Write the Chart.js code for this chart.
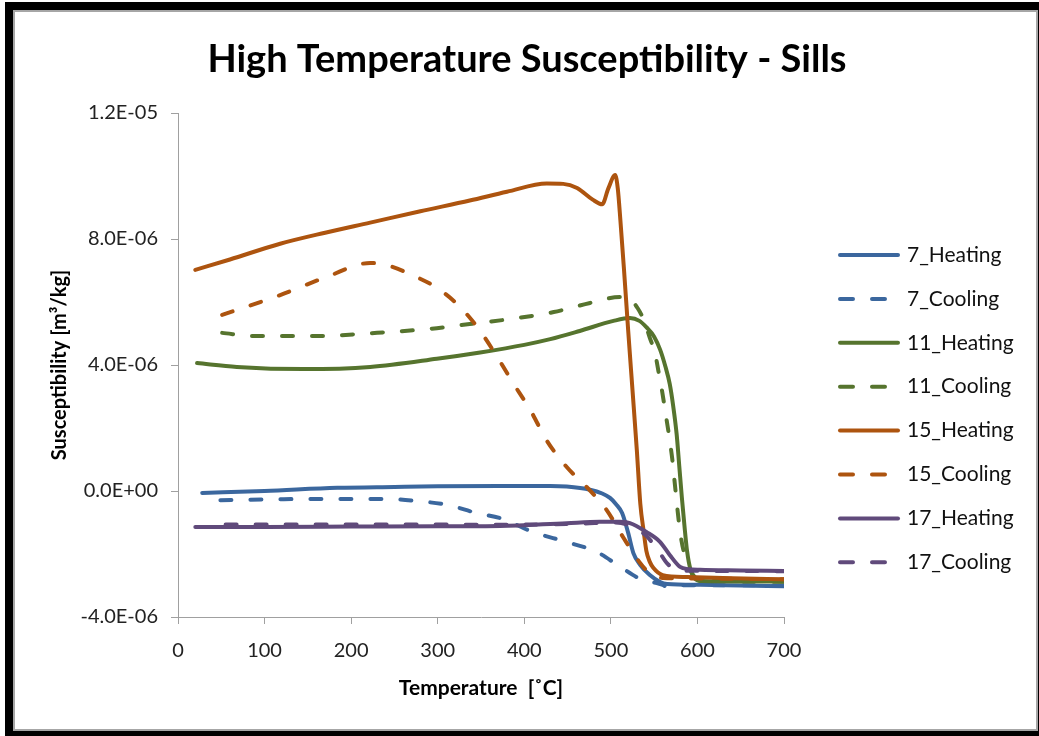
<!DOCTYPE html>
<html><head><meta charset="utf-8">
<script src="https://cdn.jsdelivr.net/npm/chart.js@4.4.1/dist/chart.umd.min.js"></script>
<style>
html,body{margin:0;padding:0;background:#fff;overflow:hidden;}
#frame{position:absolute;left:5px;top:2px;width:1034px;height:734px;background:#000;}
#inner{position:absolute;left:13px;top:10px;width:1025px;height:721px;background:#fff;border:2px solid #a6a6a6;box-sizing:border-box;}
#wrap{position:absolute;left:0;top:0;width:1039px;height:736px;}
</style></head><body>
<div id="frame"></div><div id="inner"></div>
<div id="wrap"><canvas id="c" width="1039" height="736"></canvas></div>
<script>
// ---- data (temperature in °C, susceptibility in units of 1E-06 m3/kg) ----
const titleText = 'High Temperature Susceptibility - Sills';
const xTitle = 'Temperature  [\u02DAC]';
const yTitle = 'Susceptibility [m\u00B3/kg]';
const xTicks = [0, 100, 200, 300, 400, 500, 600, 700];
const yTickValues = [-4, 0, 4, 8, 12];
const yTickLabels = ['-4.0E-06', '0.0E+00', '4.0E-06', '8.0E-06', '1.2E-05'];
const seriesNames = ['7_Heating','7_Cooling','11_Heating','11_Cooling','15_Heating','15_Cooling','17_Heating','17_Cooling'];

const h7T = [28, 100, 184, 250, 300, 372, 430, 449, 476, 490, 499, 506, 513, 520, 526, 534, 545, 557, 565, 603, 650, 700];
const h7V = [-0.06, 0.0, 0.10, 0.13, 0.15, 0.16, 0.16, 0.14, 0.04, -0.08, -0.22, -0.42, -0.7, -1.33, -1.97, -2.35, -2.67, -2.89, -2.95, -2.98, -3.0, -3.02];

const c7T = [49, 100, 164, 237, 276, 311, 345, 372, 410, 449, 484, 511, 537, 553, 560, 565, 580, 620, 700];
const c7V = [-0.29, -0.27, -0.25, -0.25, -0.32, -0.44, -0.7, -0.86, -1.3, -1.62, -1.94, -2.41, -2.83, -2.92, -2.98, -3.05, -2.99, -2.99, -3.0];

const h11T = [22, 68, 145, 222, 299, 349, 400, 430, 464, 503, 522, 533, 541, 550, 557, 563, 568, 572, 576, 579, 582, 585, 588, 592, 597, 605, 650, 700];
const h11V = [4.06, 3.94, 3.87, 3.94, 4.2, 4.4, 4.64, 4.82, 5.08, 5.4, 5.49, 5.4, 5.2, 4.9, 4.48, 3.95, 3.4, 2.7, 1.8, 0.8, -0.2, -1.1, -1.9, -2.5, -2.78, -2.86, -2.87, -2.88];

const c11T = [51, 87, 156, 230, 299, 337, 376, 434, 476, 511, 522, 531, 539, 545, 551, 555, 559, 563, 567, 571, 574, 577, 580, 584, 590, 597, 610, 700];
const c11V = [5.02, 4.92, 4.92, 5.02, 5.17, 5.3, 5.43, 5.68, 5.97, 6.16, 6.1, 5.8, 5.37, 4.86, 4.38, 3.8, 3.2, 2.5, 1.8, 1.0, 0.2, -0.6, -1.3, -1.9, -2.4, -2.73, -2.85, -2.87];

const h15T = [20, 60, 118, 170, 222, 280, 337, 380, 426, 445, 461, 479, 490, 497, 505, 508, 511, 515, 520, 525, 530, 534, 538, 541, 545, 549, 560, 588, 640, 700];
const h15V = [7.02, 7.35, 7.85, 8.2, 8.52, 8.88, 9.22, 9.5, 9.76, 9.75, 9.62, 9.25, 9.1, 9.6, 10.03, 9.6, 8.6, 7.1, 5.1, 3.2, 1.3, -0.4, -1.3, -1.9, -2.25, -2.44, -2.67, -2.73, -2.77, -2.8];

const c15T = [51, 118, 172, 222, 241, 270, 299, 326, 349, 370, 387, 407, 426, 449, 472, 495, 514, 534, 547, 560, 600, 700];
const c15V = [5.59, 6.22, 6.8, 7.24, 7.17, 6.86, 6.45, 5.84, 5.08, 4.2, 3.43, 2.57, 1.6, 0.76, 0.13, -0.6, -1.46, -2.29, -2.67, -2.76, -2.78, -2.8];

const h17T = [20, 100, 200, 300, 372, 449, 487, 510, 522, 541, 557, 568, 580, 590, 603, 650, 700];
const h17V = [-1.14, -1.14, -1.13, -1.12, -1.11, -1.02, -0.98, -0.98, -1.02, -1.3, -1.62, -2.03, -2.41, -2.48, -2.5, -2.52, -2.54];

const c17T = [55, 150, 250, 350, 430, 470, 500, 520, 540, 555, 565, 575, 590, 650, 700];
const c17V = [-1.06, -1.06, -1.06, -1.07, -1.06, -1.03, -1.0, -1.08, -1.4, -1.9, -2.3, -2.48, -2.53, -2.54, -2.55];

const seriesT = [h7T, c7T, h11T, c11T, h15T, c15T, h17T, c17T];
const seriesV = [h7V, c7V, h11V, c11V, h15V, c15V, h17V, c17V];
const colors = ['#3b679e', '#3b679e', '#56742e', '#56742e', '#ad540f', '#ad540f', '#604a7b', '#604a7b'];
// ------------------------------------------------------------------------

const FONT = 'Lato, "Open Sans", "Noto Sans", sans-serif';
const DASH = [11, 19];
const AXIS = '#a0a0a0';

const datasets = seriesNames.map((name, i) => ({
  label: name,
  data: seriesT[i].map((t, k) => ({x: t, y: seriesV[i][k]})),
  borderColor: colors[i],
  backgroundColor: colors[i],
  borderWidth: 4,
  borderDash: (i % 2 === 1) ? DASH : [],
  borderCapStyle: 'round',
  borderJoinStyle: 'round',
  pointRadius: 0,
  fill: false,
  cubicInterpolationMode: 'monotone',
  order: seriesNames.length - i
}));

const overlay = {
  id: 'overlay',
  afterDraw(chart) {
    const ctx = chart.ctx;
    ctx.save();
    ctx.fillStyle = '#000';
    ctx.font = 'bold 38px ' + FONT;
    ctx.textAlign = 'center';
    ctx.textBaseline = 'middle';
    ctx.fillText(titleText, 527, 60);
    chart.data.datasets.forEach((ds, i) => {
      const y = 255 + i * 43.9;
      ctx.strokeStyle = ds.borderColor;
      ctx.lineWidth = 4;
      ctx.lineCap = 'round';
      ctx.setLineDash(ds.borderDash.length ? [13, 19] : []);
      ctx.beginPath();
      ctx.moveTo(840, y);
      ctx.lineTo(898, y);
      ctx.stroke();
      ctx.setLineDash([]);
      ctx.fillStyle = '#111';
      ctx.font = '21px ' + FONT;
      ctx.textAlign = 'left';
      ctx.textBaseline = 'middle';
      ctx.fillText(ds.label, 907, y);
    });
    ctx.restore();
  }
};

new Chart(document.getElementById('c'), {
  type: 'line',
  data: {datasets},
  plugins: [overlay],
  options: {
    responsive: false,
    animation: false,
    devicePixelRatio: 1,
    layout: {padding: {left: 0, top: 113, right: 1039 - 784, bottom: 0}},
    plugins: {legend: {display: false}, title: {display: false}, tooltip: {enabled: false}},
    scales: {
      x: {
        type: 'linear', min: 0, max: 700,
        afterFit(s) { s.height = 736 - 617; },
        afterBuildTicks(s) { s.ticks = xTicks.map(v => ({value: v})); },
        ticks: {color: '#222', font: {family: FONT, size: 20}, padding: 15, maxRotation: 0},
        grid: {drawOnChartArea: false, drawTicks: true, tickLength: 7, color: AXIS},
        border: {color: AXIS, width: 1},
        title: {display: true, text: xTitle, color: '#000', font: {family: FONT, size: 21, weight: 'bold'}, padding: {top: 0, bottom: 35}}
      },
      y: {
        type: 'linear', min: -4, max: 12,
        afterFit(s) { s.width = 178; },
        afterBuildTicks(s) { s.ticks = yTickValues.map(v => ({value: v})); },
        ticks: {color: '#222', font: {family: FONT, size: 20}, padding: 13,
          callback: (v) => yTickLabels[yTickValues.indexOf(v)]},
        grid: {drawOnChartArea: false, drawTicks: true, tickLength: 7, color: AXIS},
        border: {color: AXIS, width: 1},
        title: {display: true, text: yTitle, color: '#000', font: {family: FONT, size: 20, weight: 'bold'}, padding: {top: 48, bottom: 0}}
      }
    }
  }
});
</script>
</body></html>
